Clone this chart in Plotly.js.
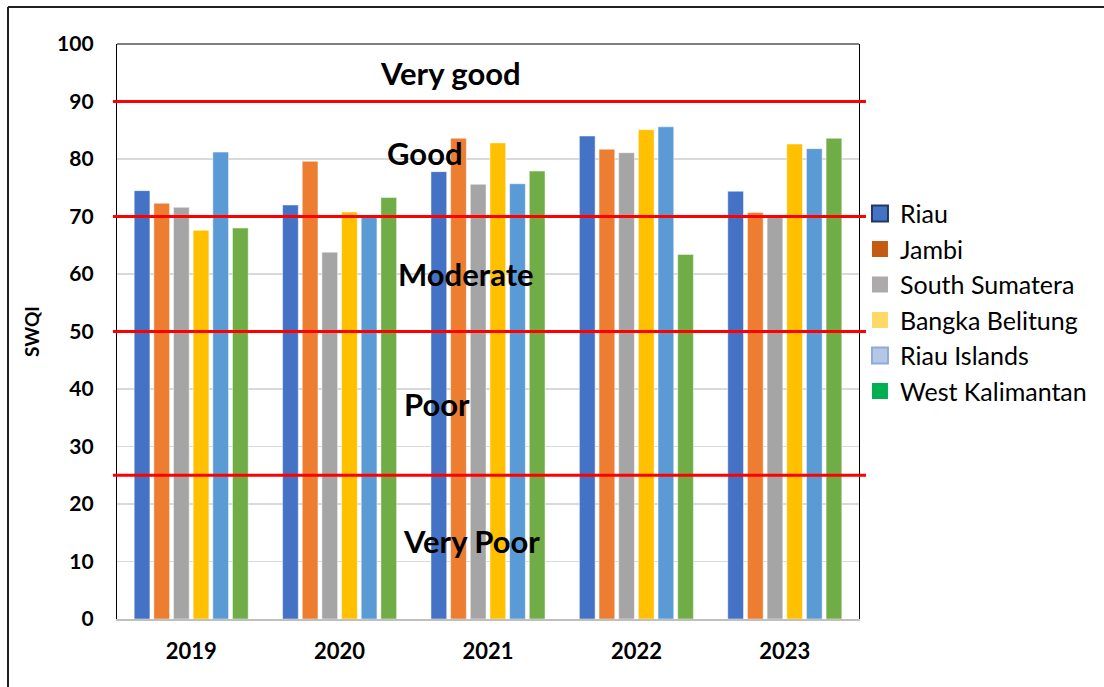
<!DOCTYPE html>
<html>
<head>
<meta charset="utf-8">
<script src="https://cdn.plot.ly/plotly-3.0.1.min.js"></script>
<style>html,body{margin:0;padding:0;background:#fff;}#chart{width:1104px;height:687px;}</style>
</head>
<body>
<div id="chart"></div>
<script>
const years = ["2019", "2020", "2021", "2022", "2023"];
const riau = [74.5, 72.0, 77.8, 84.0, 74.4];
const jambi = [72.3, 79.6, 83.6, 81.7, 70.7];
const southSumatera = [71.6, 63.8, 75.6, 81.1, 70.1];
const bangkaBelitung = [67.6, 70.8, 82.8, 85.1, 82.6];
const riauIslands = [81.2, 70.1, 75.7, 85.6, 81.8];
const westKalimantan = [68.0, 73.3, 77.9, 63.4, 83.6];
const seriesNames = ["Riau", "Jambi", "South Sumatera", "Bangka Belitung", "Riau Islands", "West Kalimantan"];
const seriesValues = [riau, jambi, southSumatera, bangkaBelitung, riauIslands, westKalimantan];
const barColors = ["#4472C4", "#ED7D31", "#A5A5A5", "#FFC000", "#5B9BD5", "#70AD47"];
const legendColors = ["#4472C4", "#C55A11", "#AEAAAA", "#FFD966", "#B4C7E7", "#00B050"];
const legendBorders = ["#1F3864", "#C55A11", "#AEAAAA", "#FFD966", "#8FAADC", "#00B050"];
const thresholds = [25, 50, 70, 90];
const classLabels = ["Very good", "Good", "Moderate", "Poor", "Very Poor"];
const classLabelX = [0.449, 0.415, 0.470, 0.431, 0.478];
const classLabelY = [95.0, 81.0, 60.0, 37.4, 13.6];

const FONT = "Lato, 'Open Sans', 'DejaVu Sans', sans-serif";
const traces = [];
seriesNames.forEach((n, i) => {
  traces.push({
    type: "bar", name: n, x: years, y: seriesValues[i], showlegend: false,
    marker: {color: barColors[i], line: {width: 0.8, color: "rgba(255,255,255,0.6)"}},
    hoverinfo: "x+y+name"
  });
});
seriesNames.forEach((n, i) => {
  traces.push({
    type: "scatter", mode: "markers", name: n, x: [null], y: [null],
    marker: {symbol: "square", size: 16, color: legendColors[i], line: {width: i === 0 || i === 4 ? 2 : 0, color: legendBorders[i]}},
    showlegend: true
  });
});

const shapes = thresholds.map(v => ({
  type: "line", xref: "paper", yref: "y", x0: -0.0054, x1: 1.0094, y0: v, y1: v,
  line: {color: "#FF0000", width: 3}, layer: "above"
}));
shapes.push({type: "line", xref: "paper", yref: "paper", x0: 0, x1: 1, y0: 1, y1: 1, line: {color: "#000", width: 1.2}});
shapes.push({type: "line", xref: "paper", yref: "paper", x0: -0.1469, x1: 1.35, y0: 1.0643, y1: 1.0643, line: {color: "#222", width: 2}});
shapes.push({type: "line", xref: "paper", yref: "paper", x0: -0.1469, x1: -0.1469, y0: 1.0643, y1: -0.2, line: {color: "#222", width: 2}});

const annotations = classLabels.map((t, i) => ({
  text: "<b>" + t + "</b>", xref: "paper", yref: "y", x: classLabelX[i], y: classLabelY[i],
  showarrow: false, font: {family: FONT, size: 31, color: "#000"}, xanchor: "center", yanchor: "middle"
}));

const layout = {
  width: 1104, height: 687,
  margin: {l: 117, r: 245, t: 44, b: 68},
  paper_bgcolor: "#fff", plot_bgcolor: "#fff",
  barmode: "group", bargap: 0.205, bargroupgap: 0.2,
  font: {family: FONT, color: "#000"},
  xaxis: {
    type: "category", showline: true, linecolor: "#BFBFBF", linewidth: 1.5,
    ticks: "", tickfont: {family: FONT, size: 22, color: "#000", weight: "bold"},
    ticklabelstandoff: 12, showgrid: false
  },
  yaxis: {
    range: [0, 100], dtick: 10, showline: true, linecolor: "#000", linewidth: 1.2, mirror: true,
    showgrid: true, gridcolor: "#D9D9D9", gridwidth: 1.5, zeroline: false, ticks: "",
    tickfont: {family: FONT, size: 21, color: "#000", weight: "bold"}, ticklabelstandoff: 18,
    title: {text: "<b>SWQI</b>", font: {family: FONT, size: 19, color: "#000"}, standoff: 12}
  },
  legend: {
    x: 1.0013, xanchor: "left", y: 0.745, yanchor: "top",
    font: {family: FONT, size: 25, color: "#000"}, bgcolor: "rgba(0,0,0,0)",
    itemwidth: 30, tracegroupgap: 0
  },
  shapes: shapes,
  annotations: annotations
};

Plotly.newPlot("chart", traces, layout, {displayModeBar: false, staticPlot: true});
</script>
</body>
</html>
